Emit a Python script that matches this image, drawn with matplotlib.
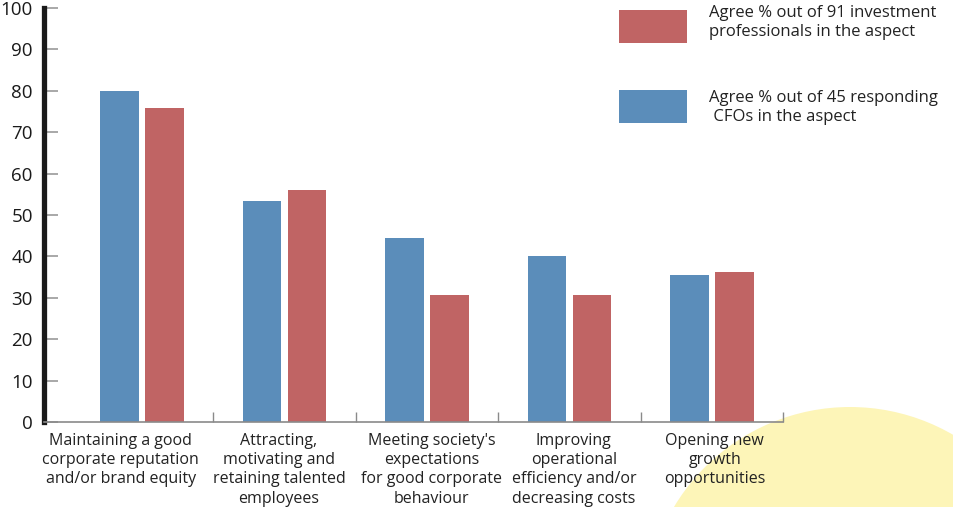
import matplotlib.pyplot as plt
import numpy as np
from matplotlib.patches import Circle
from matplotlib.transforms import IdentityTransform

plt.rcParams['font.family'] = ['Open Sans', 'DejaVu Sans']

categories = [
    "Maintaining a good\ncorporate reputation\nand/or brand equity",
    "Attracting,\nmotivating and\nretaining talented\nemployees",
    "Meeting society's\nexpectations\nfor good corporate\nbehaviour",
    "Improving\noperational\nefficiency and/or\ndecreasing costs",
    "Opening new\ngrowth\nopportunities",
]
cfo_pct = [80.0, 53.3, 44.4, 40.0, 35.6]
investor_pct = [75.8, 56.0, 30.8, 30.8, 36.3]
yticks = [0, 10, 20, 30, 40, 50, 60, 70, 80, 90, 100]

blue = "#5B8DBA"
red = "#C06464"

fig = plt.figure(figsize=(9.54, 5.07), dpi=100)

# pale yellow disc in the lower right corner, behind everything
fig.patches.append(Circle((850, -105), 205, transform=IdentityTransform(),
                          facecolor="#FDF5B8", edgecolor="none", zorder=-5))

ax = fig.add_axes([0.046, 0.1677, 0.775, 0.8163])
ax.set_facecolor("none")

x = np.arange(len(categories))
w = 0.27
off = 0.158
ax.bar(x - off, cfo_pct, w, color=blue, zorder=2)
ax.bar(x + off, investor_pct, w, color=red, zorder=2)

ax.set_xlim(-0.69, 4.5)
ax.set_ylim(0, 100)

for s in ["top", "right"]:
    ax.spines[s].set_visible(False)
ax.spines["left"].set_linewidth(3.8)
ax.spines["left"].set_color("#1a1a1a")
ax.spines["bottom"].set_color("#8a8a8a")
ax.spines["bottom"].set_linewidth(1.2)

ax.set_yticks(yticks)
ax.tick_params(axis="y", direction="in", length=10, width=1.2, color="#9a9a9a",
               labelsize=13.5, pad=8, labelcolor="#1a1a1a")

ax.set_xticks(x)
ax.set_xticklabels([])
ax.tick_params(axis="x", which="major", length=0)
ax.set_xticks(np.arange(0.5, 5, 1), minor=True)
ax.tick_params(axis="x", which="minor", direction="in", length=7, width=1,
               color="#8a8a8a")

label_shift = [-0.15, -0.04, 0.03, 0.03, 0.02]
for xi, lab, dx in zip(x, categories, label_shift):
    ax.text(xi + dx, -2.6, lab, ha="center", va="top", fontsize=11.5,
            linespacing=1.28, color="#222222")

# legend drawn as boxes with text beside them
fig.patches.append(plt.Rectangle((619, 464), 68, 33, transform=IdentityTransform(),
                                 facecolor=red, edgecolor="none"))
fig.patches.append(plt.Rectangle((619, 384), 68, 33, transform=IdentityTransform(),
                                 facecolor=blue, edgecolor="none"))
fig.text(709 / 954, 1 - 5 / 507, "Agree % out of 91 investment\nprofessionals in the aspect",
         ha="left", va="top", fontsize=12, linespacing=1.25, color="#222222")
fig.text(709 / 954, 1 - 90 / 507, "Agree % out of 45 responding\n CFOs in the aspect",
         ha="left", va="top", fontsize=12, linespacing=1.25, color="#222222")

fig.savefig("out.png", dpi=100)
